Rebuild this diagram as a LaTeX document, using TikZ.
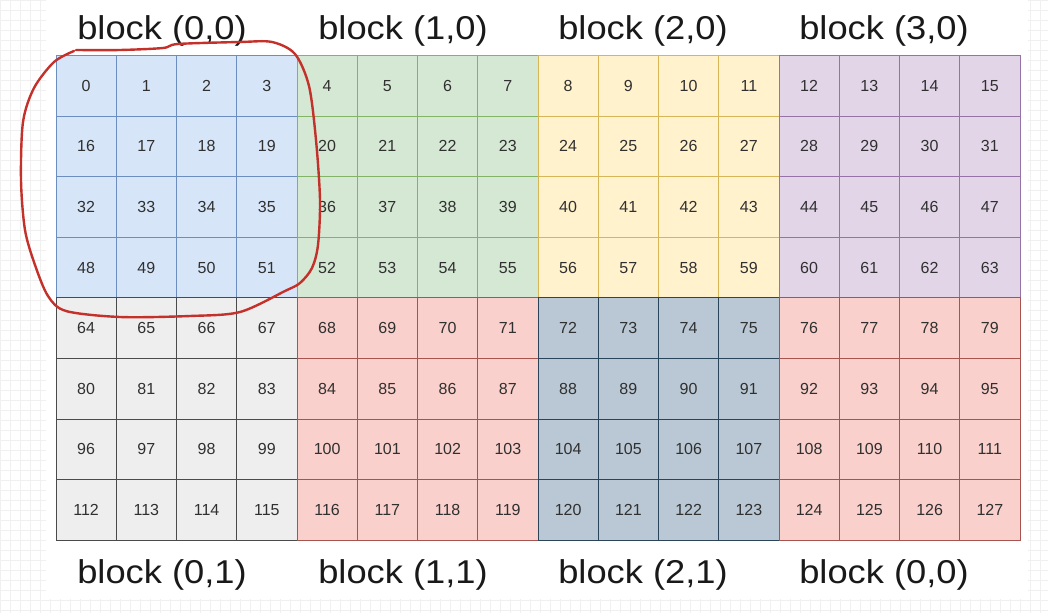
\documentclass[tikz,border=0pt]{standalone}
\usepackage{fontspec}
\setmainfont{Liberation Sans}
\definecolor{fblue}{HTML}{D6E5F8}\definecolor{dblue}{HTML}{6C8EBF}
\definecolor{fgreen}{HTML}{D5E8D4}\definecolor{dgreen}{HTML}{82B366}
\definecolor{fyellow}{HTML}{FFF2CC}\definecolor{dyellow}{HTML}{D6B656}
\definecolor{fpurple}{HTML}{E1D5E7}\definecolor{dpurple}{HTML}{9673A6}
\definecolor{fgray}{HTML}{EEEEEE}\definecolor{dgray}{HTML}{4A4A4A}
\definecolor{fred}{HTML}{F9D0CB}\definecolor{dred}{HTML}{A8544E}
\definecolor{fslate}{HTML}{B9C8D4}\definecolor{dslate}{HTML}{2A4459}
\definecolor{pen}{HTML}{C4302A}
\definecolor{txt}{HTML}{303030}
\definecolor{gridc}{HTML}{F0F0F0}
\begin{document}
\begin{tikzpicture}[x=1pt,y=-1pt,
  cell/.style={draw, minimum width=60.25pt, minimum height=60.6pt, inner sep=0pt,
    font=\fontsize{16}{16}\selectfont, text=txt, line width=0.9pt},
  blk00/.style={fill=fblue, draw=dblue},
  blk10/.style={fill=fgreen, draw=dgreen},
  blk20/.style={fill=fyellow, draw=dyellow},
  blk30/.style={fill=fpurple, draw=dpurple},
  blk01/.style={fill=fgray, draw=dgray},
  blk11/.style={fill=fred, draw=dred},
  blk21/.style={fill=fslate, draw=dslate},
  blk31/.style={fill=fred, draw=dred},
  lab/.style={anchor=base, inner sep=0pt, font=\fontsize{33}{33}\selectfont, text=black!90},
  penline/.style={draw=pen, line width=2.4pt, line cap=round, line join=round}]
\useasboundingbox (0,0) rectangle (1048,613);
\fill[white] (0,0) rectangle (1048,613);
\foreach \i in {0,...,105} {\draw[gridc, line width=0.6pt] ({\i*10},0) -- ({\i*10},613);}
\foreach \j in {0,...,61} {\draw[gridc, line width=0.6pt] (0,{\j*10}) -- (1048,{\j*10});}
\fill[white] (46,0) rectangle (1028,599);
\foreach \r in {0,...,7} {
  \foreach \c in {0,...,15} {
    \pgfmathtruncatemacro\n{\r*16+\c}
    \pgfmathtruncatemacro\bx{floor(\c/4)}
    \pgfmathtruncatemacro\by{floor(\r/4)}
    \node[cell, blk\bx\by] (c\n) at ({56+60.25*(\c+0.5)},{55.5+60.6*(\r+0.5)}) {\n};
  }
}
\node[lab] (t0) at (162,39) {\scalebox{1.1}[1]{block (0,0)}};
\node[lab] (t1) at (403,39) {\scalebox{1.1}[1]{block (1,0)}};
\node[lab] (t2) at (643,39) {\scalebox{1.1}[1]{block (2,0)}};
\node[lab] (t3) at (884,39) {\scalebox{1.1}[1]{block (3,0)}};
\node[lab] (b0) at (162,583) {\scalebox{1.1}[1]{block (0,1)}};
\node[lab] (b1) at (403,583) {\scalebox{1.1}[1]{block (1,1)}};
\node[lab] (b2) at (643,583) {\scalebox{1.1}[1]{block (2,1)}};
\node[lab] (b3) at (884,583) {\scalebox{1.1}[1]{block (0,0)}};
\draw[penline] plot[smooth, tension=0.5] coordinates {(76,50) (120,50) (163,48) (178,44) (240,42) (272,42) (295,54) (309,86) (316,140) (320,200) (318,245) (312,268) (300,283) (285,291) (240,312) (190,316) (120,317) (66,311) (48,296) (35,265) (25,230) (21,180) (23,122) (34,88) (54,62) (74,51)};
\end{tikzpicture}
\end{document}
